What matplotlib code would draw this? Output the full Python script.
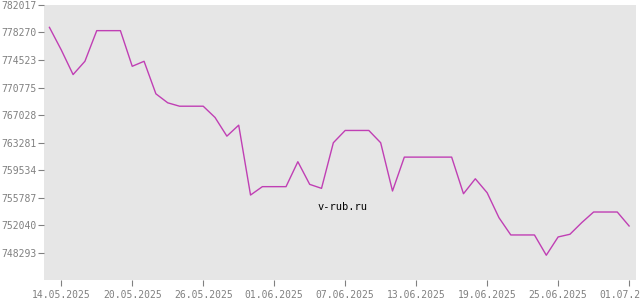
import numpy as np
import pandas as pd
import matplotlib
matplotlib.use("Agg")
import matplotlib.pyplot as plt
import matplotlib.dates as mdates

# daily values 13.05.2025 .. 01.07.2025
dates = pd.date_range("2025-05-13", "2025-07-01", freq="D")
values = [
    778971, 775900, 772538, 774347, 778522, 778522, 778522, 773666, 774347, 769913,
    768690, 768227, 768227, 768227, 766690, 764147, 765643, 756123, 757265, 757265,
    757265, 760664, 757578, 757034, 763249, 764922, 764922, 764922, 763249, 756672,
    761290, 761290, 761290, 761290, 761290, 756300, 758340, 756436, 753036, 750683,
    750683, 750683, 747921, 750411, 750778, 752369, 753810, 753810, 753810, 751907,
]

ytick_labels = ["748293", "752040", "755787", "759534", "763281",
                "767028", "770775", "774523", "778270", "782017"]
xtick_dates = pd.date_range("2025-05-14", "2025-07-01", freq="6D")

fig = plt.figure(figsize=(6.4, 3.0), dpi=100)
ax = fig.add_axes([44 / 640, 20 / 300, 592 / 640, 275 / 300])
ax.set_facecolor("#e6e6e6")
for s in ax.spines.values():
    s.set_visible(False)

ax.plot(dates, values, color="#c03fb4", lw=1.0)

ax.set_ylim(744546, 782017)
ax.set_yticks([float(v) for v in ytick_labels])
ax.set_yticklabels(ytick_labels)

ax.set_xlim(dates[0] - pd.Timedelta(hours=11), dates[-1] + pd.Timedelta(hours=14))
ax.set_xticks(xtick_dates)
ax.xaxis.set_major_formatter(mdates.DateFormatter("%d.%m.%Y"))

ax.tick_params(colors="#808080", labelsize=7, length=4, width=0.8)
ax.tick_params(axis="y", pad=1.5)
ax.tick_params(axis="x", pad=3)
for lab in ax.get_xticklabels() + ax.get_yticklabels():
    lab.set_family("DejaVu Sans Mono")

ax.text(0.505, 0.265, "v-rub.ru", transform=ax.transAxes, ha="center", va="center",
        fontsize=7.5, family="DejaVu Sans Mono", color="black")

fig.savefig("out.png", dpi=100)
